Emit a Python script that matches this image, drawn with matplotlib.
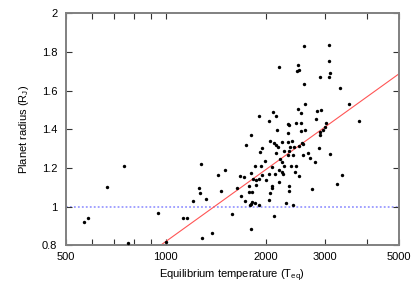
import numpy as np
import matplotlib
matplotlib.use("Agg")
import matplotlib.pyplot as plt
from matplotlib.ticker import FixedLocator, FixedFormatter, NullFormatter

plt.rcParams['font.family'] = ['Liberation Sans', 'DejaVu Sans']
plt.rcParams['mathtext.fontset'] = 'custom'
plt.rcParams['mathtext.rm'] = 'Liberation Sans'

# equilibrium temperature (K) and planet radius (R_J)
teq = [2594, 3083, 2187, 2488, 2506, 2478, 3089, 3104, 3083, 2903,
       2598, 3333, 2615, 3539, 2500, 2540, 2917, 2837, 2096, 1900,
       2146, 2039, 2822, 2331, 2347, 2460, 2549, 3021, 3000, 3788,
       2156, 2619, 2545, 1805, 2328, 2897, 2907, 2963, 1739, 1940,
       1914, 2054, 2111, 2137, 2171, 2224, 2328, 2390, 2355, 2334,
       2428, 2509, 2562, 2580, 2883, 3108, 3379, 3261, 2133, 2265,
       2327, 2411, 2575, 2661, 2711, 2803, 1990, 2193, 2229, 2086,
       2265, 2366, 1846, 1925, 2183, 2229, 2119, 1802, 2035, 2252,
       2460, 2440, 2515, 1672, 1716, 1938, 1897, 1867, 1996, 1821,
       1773, 1867, 2076, 2076, 2179, 1637, 1773, 1807, 2339, 2334,
       2749, 2054, 1681, 1733, 1807, 1799, 1791, 1856, 1899, 2035,
       2293, 2406, 2116, 1805, 569, 582, 667, 750, 768, 946,
       998, 1125, 1158, 1203, 1261, 1270, 1276, 1316, 1279, 1374,
       1435, 1506, 1463, 1583]
radius = [1.829, 1.834, 1.722, 1.733, 1.707, 1.702, 1.753, 1.693, 1.672, 1.672,
          1.633, 1.616, 1.531, 1.530, 1.503, 1.487, 1.502, 1.495, 1.492, 1.471,
          1.467, 1.441, 1.453, 1.427, 1.420, 1.431, 1.431, 1.433, 1.413, 1.441,
          1.399, 1.396, 1.391, 1.369, 1.381, 1.387, 1.370, 1.399, 1.320, 1.303,
          1.282, 1.341, 1.331, 1.321, 1.307, 1.333, 1.332, 1.339, 1.307, 1.289,
          1.307, 1.314, 1.329, 1.322, 1.301, 1.271, 1.166, 1.116, 1.279, 1.286,
          1.267, 1.269, 1.266, 1.280, 1.252, 1.229, 1.238, 1.245, 1.232, 1.207,
          1.210, 1.210, 1.210, 1.212, 1.188, 1.181, 1.169, 1.176, 1.167, 1.167,
          1.210, 1.179, 1.161, 1.160, 1.152, 1.165, 1.141, 1.136, 1.138, 1.143,
          1.108, 1.110, 1.108, 1.099, 1.129, 1.099, 1.077, 1.077, 1.105, 1.079,
          1.090, 1.069, 1.055, 1.029, 1.025, 1.013, 1.007, 1.019, 1.007, 1.034,
          1.019, 1.010, 0.950, 0.884, 0.920, 0.940, 1.100, 1.210, 0.810, 0.968,
          0.815, 0.941, 0.941, 1.030, 1.095, 1.071, 1.220, 1.038, 0.839, 0.866,
          1.166, 1.189, 1.081, 0.960]

# linear fit in log10(Teq): radius = a + b*log10(Teq)
fit_coef = [-2.90, 1.24]
jupiter_line = 1.0

xticks_major = [500, 1000, 2000, 3000, 5000]
xticks_minor = [600, 700, 800, 900, 4000]
yticks = [0.8, 1.0, 1.2, 1.4, 1.6, 1.8, 2.0]
ytick_labels = ['0.8', '1', '1.2', '1.4', '1.6', '1.8', '2']

fig = plt.figure(figsize=(4.15, 2.91), dpi=100)
ax = fig.add_axes([0.158, 0.157, 0.803, 0.797])

ax.axhline(jupiter_line, color='#9a9aff', linestyle=(0, (1, 1.2)), linewidth=1.3, zorder=1)

tt = np.logspace(np.log10(500), np.log10(5000), 200)
ax.plot(tt, fit_coef[0] + fit_coef[1] * np.log10(tt), color='#ff5555', linewidth=0.8, zorder=2)

ax.scatter(teq, radius, s=6, color='black', linewidths=0, zorder=3)

ax.set_xscale('log')
ax.set_xlim(500, 5000)
ax.set_ylim(0.8, 2.0)
ax.xaxis.set_major_locator(FixedLocator(xticks_major))
ax.xaxis.set_minor_locator(FixedLocator(xticks_minor))
ax.xaxis.set_major_formatter(FixedFormatter([str(v) for v in xticks_major]))
ax.xaxis.set_minor_formatter(NullFormatter())
ax.set_yticks(yticks)
ax.set_yticklabels(ytick_labels)

ax.tick_params(which='both', direction='in', top=True, right=True, length=4,
               width=0.8, color='#333333', labelsize=8)
ax.tick_params(axis='y', pad=6)
ax.tick_params(axis='x', pad=5)

for sp in ax.spines.values():
    sp.set_color('#808080')
    sp.set_linewidth(1.4)

ax.set_xlabel('Equilibrium temperature (T$_{\\mathrm{eq}}$)', fontsize=8, labelpad=4)
ax.set_ylabel('Planet radius (R$_{\\mathrm{J}}$)', fontsize=8, labelpad=8)

fig.savefig('out.png', dpi=100)
